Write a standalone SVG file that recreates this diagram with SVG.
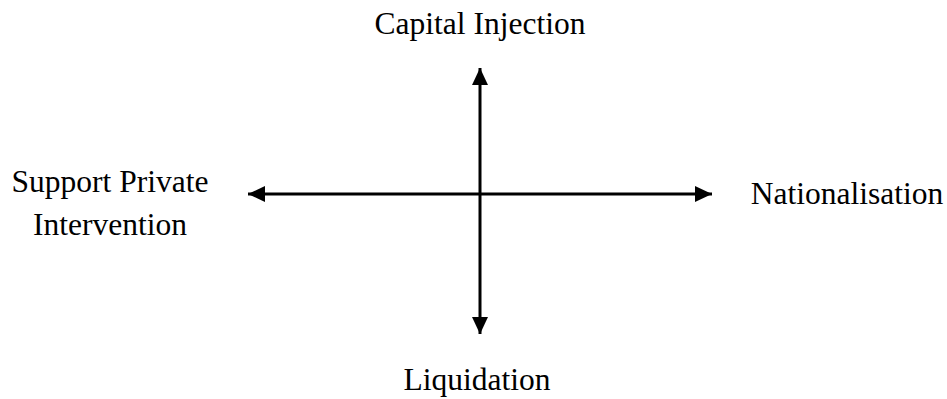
<svg xmlns="http://www.w3.org/2000/svg" width="947" height="399" viewBox="0 0 947 399">
<style>
text{font-family:"Liberation Serif","Times New Roman",serif;font-size:31.5px;fill:#000;text-anchor:middle}
.ax{stroke:#000;stroke-width:3;fill:none}
</style>
<defs>
<marker id="ah" markerWidth="17" markerHeight="16" refX="17" refY="8" orient="auto" markerUnits="userSpaceOnUse">
<path d="M0,0 L17,8 L0,16 Z" fill="#000"/>
</marker>
</defs>
<rect width="947" height="399" fill="#fff"/>
<g id="connectors">
<line class="ax" x1="480" y1="194" x2="480" y2="68" marker-end="url(#ah)"/>
<line class="ax" x1="480" y1="194" x2="480" y2="334" marker-end="url(#ah)"/>
<line class="ax" x1="480" y1="194" x2="248" y2="194" marker-end="url(#ah)"/>
<line class="ax" x1="480" y1="194" x2="712" y2="194" marker-end="url(#ah)"/>
</g>
<g id="capital"><text x="480" y="34">Capital Injection</text></g>
<g id="nationalisation"><text x="847" y="204">Nationalisation</text></g>
<g id="support"><text x="110" y="192">Support Private</text><text x="110" y="235">Intervention</text></g>
<g id="liquidation"><text x="477" y="390">Liquidation</text></g>
</svg>
